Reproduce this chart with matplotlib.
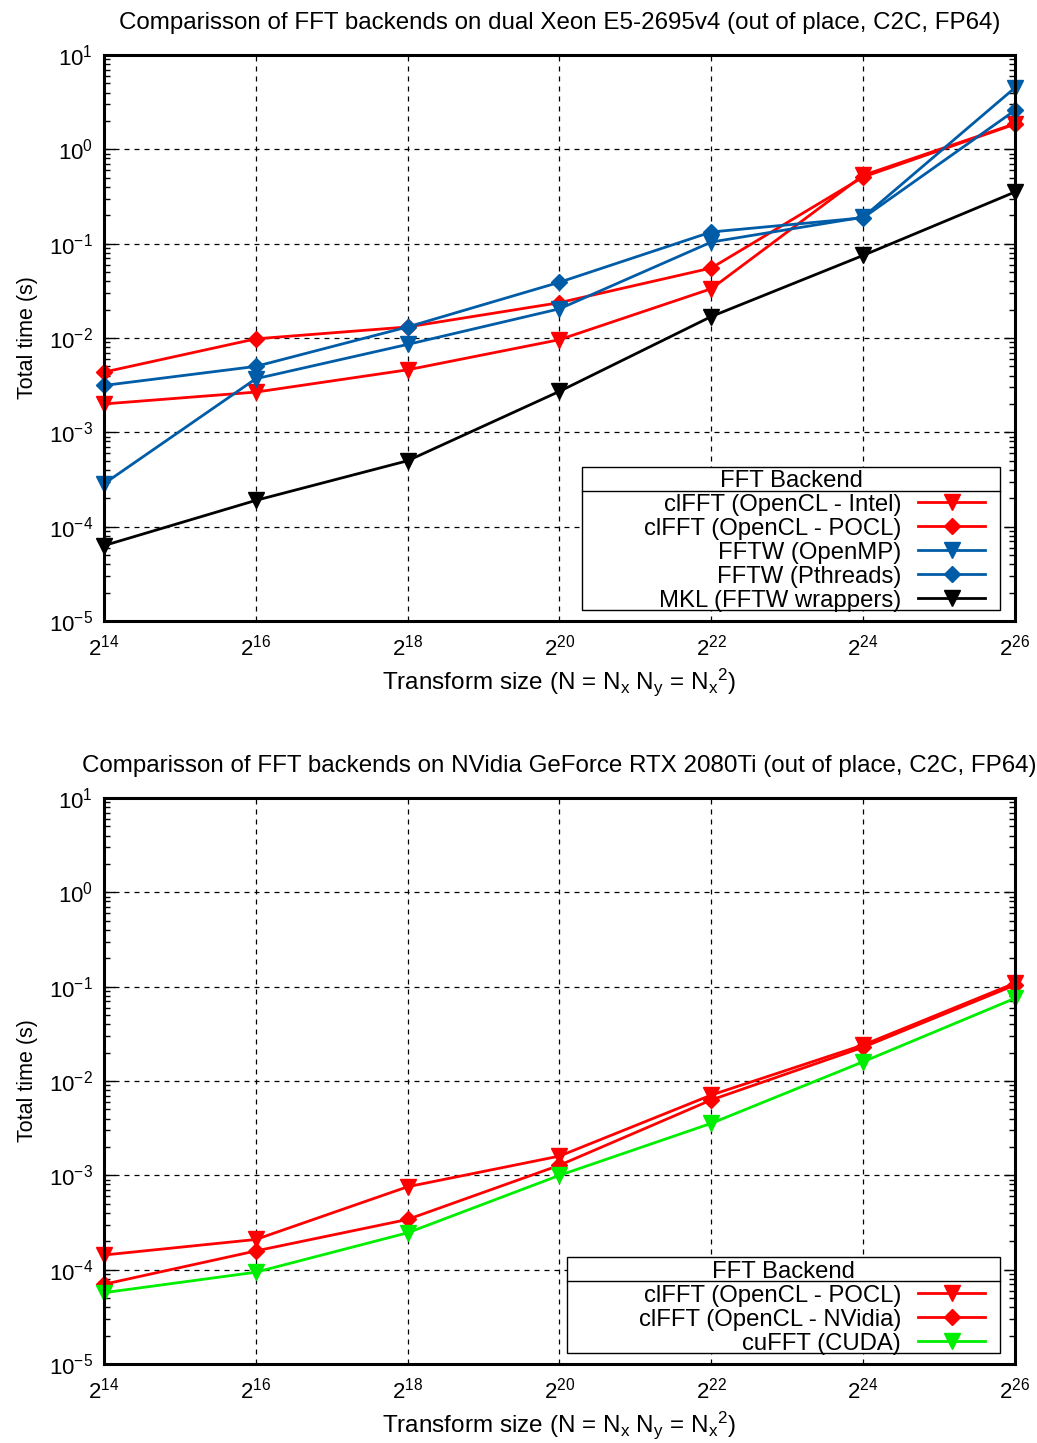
import numpy as np
import matplotlib
matplotlib.use("Agg")
import matplotlib.pyplot as plt
from matplotlib.ticker import FixedLocator, FuncFormatter, LogLocator, NullLocator, NullFormatter
from matplotlib.lines import Line2D
from matplotlib.patches import Rectangle

plt.rcParams['font.family'] = ['Liberation Sans', 'DejaVu Sans']
plt.rcParams['mathtext.fontset'] = 'custom'
plt.rcParams['mathtext.rm'] = 'Liberation Sans'
plt.rcParams['mathtext.it'] = 'Liberation Sans'

# ---------------- data ----------------
exponents = [14, 16, 18, 20, 22, 24, 26]

cpu_title = "Comparisson of FFT backends on dual Xeon E5-2695v4 (out of place, C2C, FP64)"
cpu_labels = ["clFFT (OpenCL - Intel)", "clFFT (OpenCL - POCL)", "FFTW (OpenMP)",
              "FFTW (Pthreads)", "MKL (FFTW wrappers)"]
clfft_intel = [2.0e-3, 2.67e-3, 4.6e-3, 9.6e-3, 0.0333, 0.53, 1.87]
clfft_pocl_cpu = [4.35e-3, 9.8e-3, 0.0131, 0.0237, 0.0552, 0.509, 1.85]
fftw_openmp = [2.85e-4, 3.7e-3, 8.55e-3, 0.0204, 0.104, 0.191, 4.5]
fftw_pthreads = [3.14e-3, 5.0e-3, 0.0131, 0.039, 0.133, 0.188, 2.59]
mkl = [6.3e-5, 1.9e-4, 5.0e-4, 2.72e-3, 0.0169, 0.0751, 0.353]

gpu_title = "Comparisson of FFT backends on NVidia GeForce RTX 2080Ti (out of place, C2C, FP64)"
gpu_labels = ["clFFT (OpenCL - POCL)", "clFFT (OpenCL - NVidia)", "cuFFT (CUDA)"]
clfft_pocl_gpu = [1.43e-4, 2.09e-4, 7.57e-4, 1.6e-3, 7.1e-3, 0.0241, 0.109]
clfft_nvidia = [7.0e-5, 1.58e-4, 3.41e-4, 1.28e-3, 6.3e-3, 0.0228, 0.104]
cufft = [5.7e-5, 9.4e-5, 2.46e-4, 1.0e-3, 3.56e-3, 0.016, 0.0753]

legend_title = "FFT Backend"
ylabel = "Total time (s)"
xlabel = r"Transform size (N = N$_\mathdefault{x}$ N$_\mathdefault{y}$ = N$_\mathdefault{x}{}^\mathdefault{2}$)"

RED = "#ff0000"
BLUE = "#005ca6"
GREEN = "#00ee00"
BLACK = "#000000"

cpu_series = [(clfft_intel, RED, 'v'), (clfft_pocl_cpu, RED, 'D'),
              (fftw_openmp, BLUE, 'v'), (fftw_pthreads, BLUE, 'D'), (mkl, BLACK, 'v')]
gpu_series = [(clfft_pocl_gpu, RED, 'v'), (clfft_nvidia, RED, 'D'), (cufft, GREEN, 'v')]

x = [2.0 ** e for e in exponents]

W, H = 1037, 1443
fig = plt.figure(figsize=(W / 100, H / 100), dpi=100)

def fx(px):
    return px / W

def fy(py):
    return 1 - py / H

AX_L, AX_R = 104, 1015
AX1_T, AX1_B = 55, 621
AX2_T, AX2_B = 798, 1364

ax1 = fig.add_axes([fx(AX_L), fy(AX1_B), (AX_R - AX_L) / W, (AX1_B - AX1_T) / H])
ax2 = fig.add_axes([fx(AX_L), fy(AX2_B), (AX_R - AX_L) / W, (AX2_B - AX2_T) / H])

FS_TICK = 16
FS_LAB = 15.5
FS_XLAB = 17.5
FS_TITLE = 17.4
FS_LEG = 17.2
MS = {'v': 11, 'D': 8}
LW = 2.0


def draw_key(bottom_px, labels, series):
    fs_px = FS_LEG * 100 / 72
    row = fs_px * 1.0
    nchar = max(len(s) for s in labels)
    right = AX_R - 15
    width = nchar * 0.62 * fs_px + 3.85 * fs_px
    left = right - width
    n = len(labels)
    top = bottom_px - (n + 1) * row
    fig.add_artist(Rectangle((fx(left), fy(bottom_px)), width / W, (bottom_px - top) / H,
                             transform=fig.transFigure, facecolor='white', edgecolor='black',
                             linewidth=1.0, zorder=5))
    fig.add_artist(Line2D([fx(left), fx(right)], [fy(top + row), fy(top + row)],
                          transform=fig.transFigure, color='black', linewidth=1.0, zorder=6))
    fig.text(fx((left + right) / 2), fy(top + row / 2), legend_title, fontsize=FS_LEG,
             ha='center', va='center_baseline', zorder=7)
    for i, (lab, (vals, col, mk)) in enumerate(zip(labels, series)):
        yc = top + (i + 1.5) * row
        fig.text(fx(right - 99), fy(yc), lab, fontsize=FS_LEG, ha='right',
                 va='center_baseline', zorder=7)
        fig.add_artist(Line2D([fx(right - 82), fx(right - 15)], [fy(yc), fy(yc)],
                              transform=fig.transFigure, color=col, linewidth=LW, zorder=7))
        fig.add_artist(Line2D([fx(right - 48.5)], [fy(yc)], transform=fig.transFigure,
                              color=col, marker=mk, markersize=MS[mk], linestyle='none',
                              markerfacecolor=col, markeredgecolor=col, zorder=8))


def style(ax, title, series, labels):
    for (vals, col, mk), lab in zip(series, labels):
        ax.plot(x, vals, color=col, marker=mk, markersize=MS[mk], linewidth=LW, label=lab,
                markeredgecolor=col, markerfacecolor=col, clip_on=False, zorder=3)
    ax.set_xscale('log', base=2)
    ax.set_yscale('log')
    ax.set_xlim(2 ** 14, 2 ** 26)
    ax.set_ylim(1e-5, 1e1)
    ax.xaxis.set_major_locator(FixedLocator(x))
    ax.xaxis.set_major_formatter(FuncFormatter(lambda v, p: r"$\mathdefault{2^{%d}}$" % round(np.log2(v))))
    ax.xaxis.set_minor_locator(NullLocator())
    ax.yaxis.set_major_locator(FixedLocator([10.0 ** k for k in range(-5, 2)]))
    ax.yaxis.set_major_formatter(FuncFormatter(lambda v, p: r"$\mathdefault{10^{%d}}$" % round(np.log10(v))))
    ax.yaxis.set_minor_locator(LogLocator(base=10, subs=np.arange(2, 10), numticks=20))
    ax.yaxis.set_minor_formatter(NullFormatter())
    ax.tick_params(axis='both', which='major', direction='in', length=8, width=1.0,
                   labelsize=FS_TICK, top=True, right=True, pad=8)
    ax.tick_params(axis='y', which='minor', direction='in', length=4, width=1.0, right=True, left=True)
    ax.tick_params(axis='x', which='major', length=0, pad=10)
    for s in ax.spines.values():
        s.set_linewidth(2.2)
        s.set_color('black')
        s.set_zorder(4)
    ax.grid(True, which='major', color='black', linestyle=(0, (4, 4)), linewidth=0.9)
    ax.set_axisbelow(True)
    ax.set_title(title, fontsize=FS_TITLE, pad=19)
    ax.set_ylabel(ylabel, fontsize=FS_LAB, labelpad=8)
    ax.set_xlabel(xlabel, fontsize=FS_XLAB, labelpad=4)


style(ax1, cpu_title, cpu_series, cpu_labels)
style(ax2, gpu_title, gpu_series, gpu_labels)
draw_key(AX1_B - 11, cpu_labels, cpu_series)
draw_key(AX2_B - 11, gpu_labels, gpu_series)

fig.savefig("out.png", dpi=100)
